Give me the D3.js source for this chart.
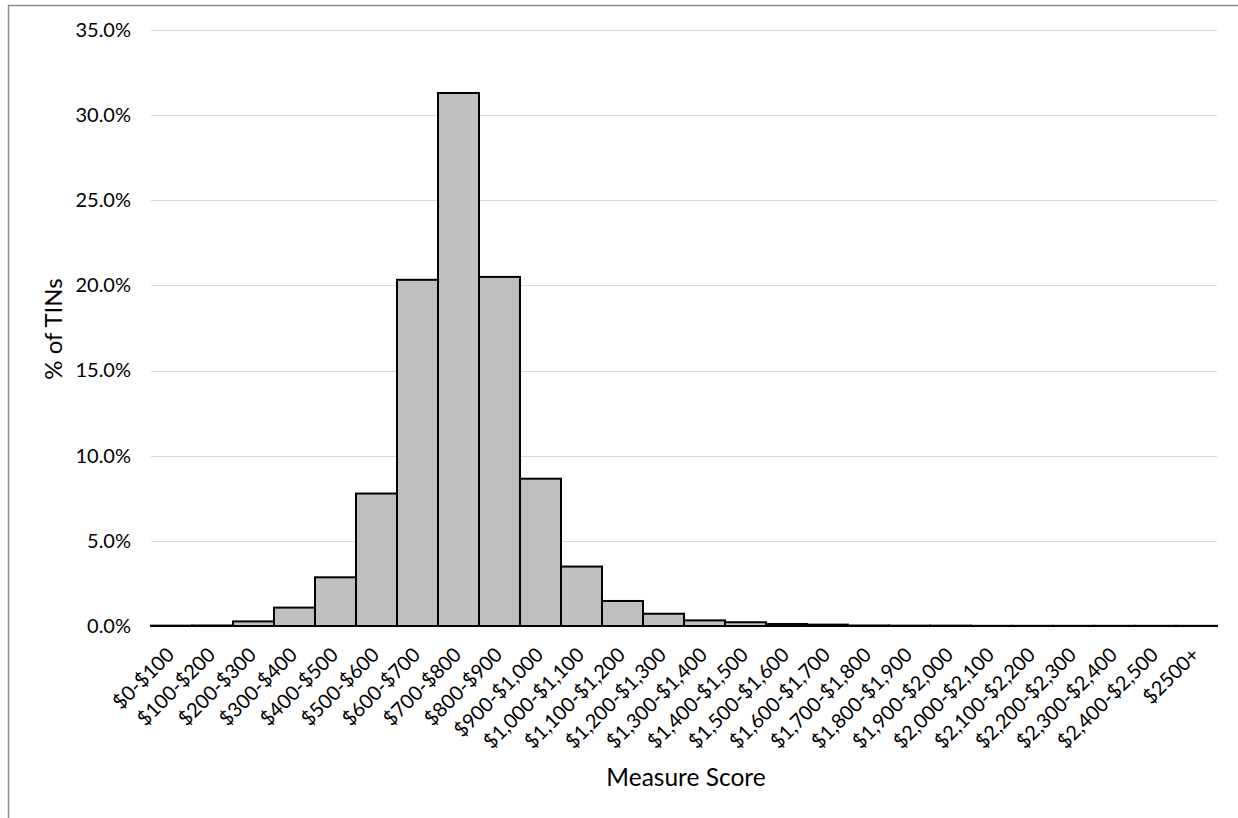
<!DOCTYPE html>
<html>
<head>
<meta charset="utf-8">
<script src="https://cdn.jsdelivr.net/npm/d3@7"></script>
<style>
  html, body { margin: 0; padding: 0; background: #fff; }
  svg { display: block; }
  text { font-family: Lato, "Open Sans", sans-serif; fill: #000; }
</style>
</head>
<body>
<svg id="chart" width="1238" height="818"></svg>
<script>
const categories = ["$0-$100","$100-$200","$200-$300","$300-$400","$400-$500","$500-$600","$600-$700","$700-$800","$800-$900","$900-$1,000","$1,000-$1,100","$1,100-$1,200","$1,200-$1,300","$1,300-$1,400","$1,400-$1,500","$1,500-$1,600","$1,600-$1,700","$1,700-$1,800","$1,800-$1,900","$1,900-$2,000","$2,000-$2,100","$2,100-$2,200","$2,200-$2,300","$2,300-$2,400","$2,400-$2,500","$2500+"];
const percentTINs = [0.02, 0.03, 0.27, 1.08, 2.86, 7.78, 20.33, 31.3, 20.5, 8.65, 3.49, 1.47, 0.72, 0.33, 0.22, 0.12, 0.08, 0.03, 0.02, 0.02, 0.01, 0.01, 0.01, 0.01, 0.01, 0.01];
const yTicks = [0, 5, 10, 15, 20, 25, 30, 35];
const yTitle = "% of TINs";
const xTitle = "Measure Score";

const svg = d3.select("#chart");
const margin = {left: 151, right: 21, top: 30, bottom: 192};
const W = 1238, H = 818;
const x = d3.scaleBand().domain(categories).range([margin.left, W - margin.right]).padding(0);
const y = d3.scaleLinear().domain([0, 35]).range([H - margin.bottom, margin.top]);
const FONT = "Lato, 'Open Sans', sans-serif";

// outer border
svg.append("rect").attr("x", 8.5).attr("y", 5.5).attr("width", 1300).attr("height", 900)
  .attr("fill", "none").attr("stroke", "#8c8c8c").attr("stroke-width", 1.5);

// gridlines
svg.append("g").selectAll("line").data(yTicks.filter(d => d > 0)).join("line")
  .attr("x1", margin.left).attr("x2", W - margin.right)
  .attr("y1", d => Math.round(y(d)) + 0.5).attr("y2", d => Math.round(y(d)) + 0.5)
  .attr("stroke", "#d9d9d9").attr("stroke-width", 1);

// y axis labels
const yAxis = d3.axisLeft(y).tickValues(yTicks).tickSize(0).tickPadding(0)
  .tickFormat(d => d.toFixed(1) + "%");
const yg = svg.append("g").attr("transform", `translate(131,0)`).call(yAxis);
yg.select(".domain").remove();
yg.selectAll("text").attr("font-size", 20).attr("fill", "#333").style("font-family", FONT);

// baseline
svg.append("line").attr("x1", margin.left).attr("x2", W - margin.right)
  .attr("y1", y(0)).attr("y2", y(0)).attr("stroke", "#bfbfbf").attr("stroke-width", 1.5);

// bars
svg.append("g").selectAll("rect").data(categories).join("rect")
  .attr("x", d => x(d))
  .attr("width", x.bandwidth())
  .attr("y", (d, i) => y(percentTINs[i]))
  .attr("height", (d, i) => y(0) - y(percentTINs[i]))
  .attr("fill", "#bfbfbf").attr("stroke", "#000").attr("stroke-width", 2);

// x axis labels
const xAxis = d3.axisBottom(x).tickSize(0).tickPadding(0);
const xg = svg.append("g").attr("transform", `translate(0,${y(0)})`).call(xAxis);
xg.select(".domain").remove();
xg.selectAll("text")
  .attr("font-size", 20).attr("fill", "#111")
  .style("font-family", FONT)
  .attr("text-anchor", "end")
  .attr("dy", 0)
  .attr("y", 0)
  .attr("transform", "translate(4,30) rotate(-45)");

// axis titles
svg.append("text").attr("x", 686).attr("y", 786).attr("text-anchor", "middle")
  .attr("font-size", 24.5).attr("fill", "#222").text(xTitle);
svg.append("text").attr("transform", "translate(62,329) rotate(-90)")
  .attr("text-anchor", "middle").attr("font-size", 24).attr("fill", "#222").text(yTitle);
</script>
</body>
</html>
